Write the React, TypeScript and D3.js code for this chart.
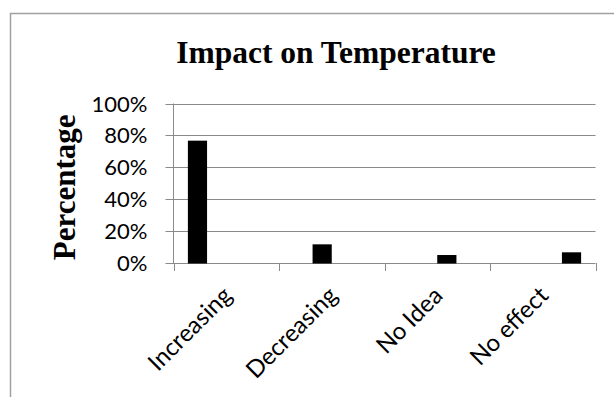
import React from "react";
import * as d3 from "d3";

// Survey answers: share of respondents per answer
const categories: string[] = ["Increasing", "Decreasing", "No Idea", "No effect"];
const values: number[] = [76.7, 11.7, 5.0, 6.7];
const yTicks: number[] = [0, 20, 40, 60, 80, 100];
const title = "Impact on Temperature";
const yTitle = "Percentage";

const W = 614;
const H = 397;
const plot = { left: 173.5, right: 595.5, top: 103.5, bottom: 263 };
const gridColor = "#8a8a8a";
const labelFont = "Lato, 'Open Sans', sans-serif";
const titleFont = "'Liberation Serif', 'Times New Roman', serif";

export default function App() {
  const x = d3.scaleBand<string>().domain(categories).range([plot.left, plot.right]).padding(0);
  // each answer is its own series, so every group keeps one slot per series
  const slot = d3
    .scaleBand<string>()
    .domain(categories)
    .range([0, x.bandwidth()])
    .paddingInner(0)
    .paddingOuter(0.75);
  const y = d3.scaleLinear().domain([0, 100]).range([plot.bottom, plot.top]);
  const fmt = (v: number) => `${v}%`;

  return (
    <svg
      width={W}
      height={H}
      style={{ position: "fixed", left: 0, top: 0, background: "#fff" }}
    >
      <rect x={0} y={0} width={W} height={H} fill="#fff" />
      {/* outer chart frame */}
      <rect x={10.5} y={13.5} width={W + 20} height={H + 20} fill="none" stroke="#a0a0a0" strokeWidth={1.5} />

      <text
        x={336}
        y={63}
        textAnchor="middle"
        fontFamily={titleFont}
        fontWeight="bold"
        fontSize={31.5}
        fill="#000"
      >
        {title}
      </text>

      <text
        transform={`translate(75, ${(plot.top + plot.bottom) / 2 + 4}) rotate(-90)`}
        textAnchor="middle"
        fontFamily={titleFont}
        fontWeight="bold"
        fontSize={31}
        fill="#000"
      >
        {yTitle}
      </text>

      {/* horizontal gridlines and left tick marks */}
      {yTicks.map((t) => {
        const yy = Math.round(y(t)) + 0.5;
        return (
          <g key={t}>
            <line x1={plot.left - 8} x2={plot.right} y1={yy} y2={yy} stroke={gridColor} strokeWidth={1} />
            <text
              x={147.5}
              y={yy + 7.5}
              textAnchor="end"
              fontFamily={labelFont}
              fontSize={22}
              fill="#000"
            >
              {fmt(t)}
            </text>
          </g>
        );
      })}

      {/* value axis line */}
      <line x1={plot.left} x2={plot.left} y1={plot.top} y2={plot.bottom} stroke={gridColor} strokeWidth={1} />

      {/* category boundary ticks */}
      {[...categories.map((c) => x(c) as number), plot.right].map((xx, i) => (
        <line
          key={i}
          x1={Math.round(xx) + 0.5}
          x2={Math.round(xx) + 0.5}
          y1={plot.bottom}
          y2={plot.bottom + 8}
          stroke={gridColor}
          strokeWidth={1}
        />
      ))}

      {/* bars */}
      {categories.map((c, i) => {
        const bx = (x(c) as number) + (slot(c) as number);
        return (
          <rect
            key={c}
            x={bx}
            y={y(values[i])}
            width={slot.bandwidth()}
            height={plot.bottom - y(values[i]) + 0.5}
            fill="#000"
          />
        );
      })}

      {/* rotated category labels */}
      {categories.map((c) => {
        const cx = (x(c) as number) + x.bandwidth() / 2;
        return (
          <text
            key={c}
            transform={`translate(${cx + 7}, ${plot.bottom + 34}) rotate(-45)`}
            textAnchor="end"
            fontFamily={labelFont}
            fontSize={24}
            fill="#000"
          >
            {c}
          </text>
        );
      })}
    </svg>
  );
}
